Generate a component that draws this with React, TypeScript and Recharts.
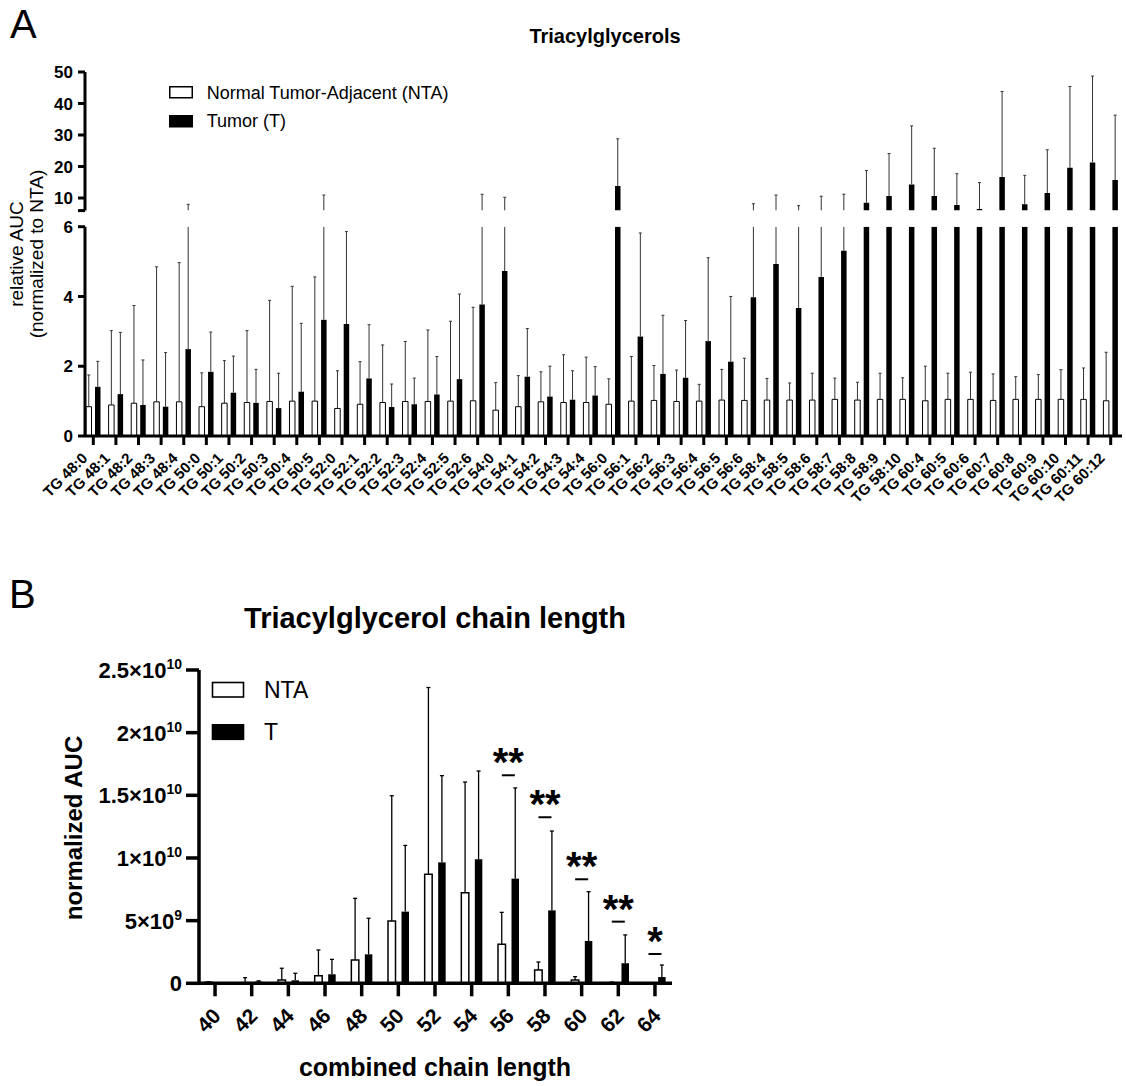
import React from 'react';
import { BarChart, ComposedChart, Bar, Line, XAxis, YAxis, Legend } from 'recharts';

const FONT = '"Liberation Sans", Arial, Helvetica, sans-serif';

// ---------------- Panel A : Triacylglycerols ----------------
const categoriesA = [
  'TG 48:0', 'TG 48:1', 'TG 48:2', 'TG 48:3', 'TG 48:4',
  'TG 50:0', 'TG 50:1', 'TG 50:2', 'TG 50:3', 'TG 50:4', 'TG 50:5',
  'TG 52:0', 'TG 52:1', 'TG 52:2', 'TG 52:3', 'TG 52:4', 'TG 52:5', 'TG 52:6',
  'TG 54:0', 'TG 54:1', 'TG 54:2', 'TG 54:3', 'TG 54:4',
  'TG 56:0', 'TG 56:1', 'TG 56:2', 'TG 56:3', 'TG 56:4', 'TG 56:5', 'TG 56:6',
  'TG 58:4', 'TG 58:5', 'TG 58:6', 'TG 58:7', 'TG 58:8', 'TG 58:9', 'TG 58:10',
  'TG 60:4', 'TG 60:5', 'TG 60:6', 'TG 60:7', 'TG 60:8', 'TG 60:9', 'TG 60:10', 'TG 60:11', 'TG 60:12',
];
const ntaMeanA = [
  0.84, 0.89, 0.94, 0.98, 0.98,
  0.84, 0.94, 0.96, 0.99, 1.0, 1.0,
  0.79, 0.91, 0.96, 0.99, 0.99, 1.0, 1.01,
  0.74, 0.84, 0.98, 0.96, 0.96,
  0.91, 1.0, 1.02, 0.99, 1.0, 1.03, 1.02,
  1.03, 1.03, 1.03, 1.05, 1.03, 1.05, 1.05,
  1.01, 1.05, 1.05, 1.02, 1.05, 1.05, 1.05, 1.05, 1.01,
];
const ntaSdA = [
  0.91, 2.13, 2.8, 3.87, 3.99,
  0.97, 1.22, 2.06, 2.9, 3.29, 3.56,
  1.08, 1.22, 1.65, 1.72, 2.05, 2.29, 2.68,
  0.79, 0.89, 0.86, 1.37, 1.3,
  0.73, 1.28, 1.0, 0.9, 0.48, 0.88, 1.21,
  0.62, 0.49, 0.77, 0.61, 0.51, 0.75, 0.62,
  0.99, 0.75, 0.78, 0.76, 0.65, 0.71, 0.85, 0.9, 1.39,
];
const tumorMeanA = [
  1.41, 1.2, 0.89, 0.84, 2.49,
  1.84, 1.24, 0.95, 0.8, 1.27, 3.33,
  3.21, 1.65, 0.83, 0.91, 1.19, 1.63, 3.77,
  4.73, 1.7, 1.13, 1.04, 1.16,
  13.8, 2.85, 1.78, 1.67, 2.72, 2.13, 3.98,
  4.93, 3.67, 4.56, 5.31, 8.5, 10.6, 14.3,
  10.6, 7.8, 6.5, 16.7, 8.0, 11.6, 19.6, 21.3, 15.7,
];
const tumorSdA = [
  0.73, 1.77, 1.29, 1.55, 5.5,
  1.14, 1.05, 0.96, 1.0, 1.96, 7.6,
  2.65, 1.54, 0.66, 0.75, 1.09, 2.44, 7.4,
  5.5, 1.38, 0.87, 0.83, 0.83,
  15.0, 2.97, 1.68, 1.64, 2.39, 1.87, 4.2,
  6.0, 3.9, 6.0, 5.9, 10.2, 13.5, 18.6,
  15.2, 9.9, 8.4, 27.1, 9.2, 13.7, 25.8, 27.4, 20.6,
];
const seriesNamesA = ['Normal Tumor-Adjacent (NTA)', 'Tumor (T)'];
const lowerDomainA = [0, 6];
const upperDomainA = [6, 50];
const lowerTicksA = [0, 2, 4, 6];
const upperTicksA = [6, 10, 20, 30, 40, 50];

// ---------------- Panel B : chain length ----------------
const categoriesB = ['40', '42', '44', '46', '48', '50', '52', '54', '56', '58', '60', '62', '64'];
const ntaMeanB = [0.08e9, 0.05e9, 0.27e9, 0.61e9, 1.86e9, 4.97e9, 8.7e9, 7.23e9, 3.11e9, 1.06e9, 0.27e9, 0.05e9, 0.02e9];
const ntaSdB = [0.04e9, 0.4e9, 0.93e9, 2.05e9, 4.92e9, 10.0e9, 14.9e9, 8.83e9, 2.55e9, 0.64e9, 0.26e9, 0.05e9, 0.01e9];
const tumorMeanB = [0.02e9, 0.15e9, 0.24e9, 0.72e9, 2.31e9, 5.72e9, 9.65e9, 9.89e9, 8.35e9, 5.82e9, 3.38e9, 1.6e9, 0.5e9];
const tumorSdB = [0.01e9, 0.05e9, 0.56e9, 1.19e9, 2.88e9, 5.28e9, 6.92e9, 7.05e9, 7.24e9, 6.33e9, 3.93e9, 2.26e9, 0.96e9];
const sigLabelsB = ['', '', '', '', '', '', '', '', '**', '**', '**', '**', '*'];
const sigLevelB = [null, null, null, null, null, null, null, null, 16.6e9, 13.25e9, 8.3e9, 4.92e9, 2.34e9];
const seriesNamesB = ['NTA', 'T'];
const ticksB = [0, 5e9, 1e10, 1.5e10, 2e10, 2.5e10];
const tickBaseB = ['0', '5×10', '1×10', '1.5×10', '2×10', '2.5×10'];
const tickExpB = ['', '9', '10', '10', '10', '10'];

const dataA = categoriesA.map((cat, i) => ({
  cat,
  nta: ntaMeanA[i],
  ntaSd: ntaSdA[i],
  t: tumorMeanA[i],
  tSd: tumorSdA[i],
}));

const dataB = categoriesB.map((cat, i) => ({
  cat,
  nta: ntaMeanB[i],
  ntaSd: ntaSdB[i],
  t: tumorMeanB[i],
  tSd: tumorSdB[i],
  sigY: sigLevelB[i],
  sigLabel: sigLabelsB[i],
}));

// error whisker drawn on top of the stacked mean bar (mean .. mean+sd)
function makeErrShape(meanKey: string, sdKey: string, lo: number, hi: number, capW: number, color: string, sw: number) {
  return (props: any) => {
    const { x, y, width, height, payload } = props;
    if (!payload || !isFinite(x) || !isFinite(y) || !isFinite(height)) return <g />;
    const mean = payload[meanKey];
    const top = mean + payload[sdKey];
    if (top <= lo || mean >= hi) return <g />;
    const cx = x + width / 2;
    const y1 = Math.min(y, y + height);
    const y2 = Math.max(y, y + height);
    return (
      <g>
        <line x1={cx} x2={cx} y1={y1} y2={y2} stroke={color} strokeWidth={sw} />
        {top <= hi && (
          <line x1={cx - capW / 2} x2={cx + capW / 2} y1={y1} y2={y1} stroke={color} strokeWidth={sw} />
        )}
      </g>
    );
  };
}

const TickA = (props: any) => {
  const { x, y, payload } = props;
  const ax = x - 5;
  const ay = y + 14;
  return (
    <text x={ax} y={ay} transform={`rotate(-45 ${ax} ${ay})`} textAnchor="end" fontSize={15}
      fontWeight="bold" fontFamily={FONT} fill="#000">{payload.value}</text>
  );
};

const TickBX = (props: any) => {
  const { x, y, payload } = props;
  const ax = x + 7;
  const ay = y + 21;
  return (
    <text x={ax} y={ay} transform={`rotate(-45 ${ax} ${ay})`} textAnchor="end" fontSize={21}
      fontWeight="bold" fontFamily={FONT} fill="#000">{payload.value}</text>
  );
};

const TickBY = (props: any) => {
  const { x, y, payload } = props;
  const i = ticksB.indexOf(payload.value);
  const base = i >= 0 ? tickBaseB[i] : String(payload.value);
  const exp = i >= 0 ? tickExpB[i] : '';
  return (
    <text x={x} y={y + 8} textAnchor="end" fontSize={22} fontWeight="bold" fontFamily={FONT} fill="#000">
      {base}
      {exp ? <tspan dy={-9} fontSize={14}>{exp}</tspan> : null}
    </text>
  );
};

const visibleItems = (payload: any[] | undefined) =>
  (payload || []).filter((it: any) => it && it.type !== 'none' && it.legendType !== 'none');

const LegendA = (props: any) => {
  const items = visibleItems(props.payload);
  return (
    <svg width={320} height={56} style={{ display: 'block', overflow: 'visible' }}>
      {items.map((it: any, i: number) => (
        <g key={i}>
          <rect x={9.75} y={6.75 + i * 29} width={22.5} height={11} fill={it.color} stroke="#000" strokeWidth={1.5} />
          <text x={46.7} y={19 + i * 28.3} fontSize={18} fontFamily={FONT} fill="#000">{it.value}</text>
        </g>
      ))}
    </svg>
  );
};

const LegendB = (props: any) => {
  const items = visibleItems(props.payload);
  return (
    <svg width={160} height={75} style={{ display: 'block', overflow: 'visible' }}>
      {items.map((it: any, i: number) => (
        <g key={i}>
          <rect x={13.5} y={8.5 + i * 42.3} width={31} height={14.5} fill={it.color} stroke="#000" strokeWidth={1.6} />
          <text x={65} y={23.5 + i * 42.6} fontSize={23} fontFamily={FONT} fill="#000">{it.value}</text>
        </g>
      ))}
    </svg>
  );
};

const SigDot = (props: any) => {
  const { cx, cy, payload, index } = props;
  if (!payload || !payload.sigLabel || cy == null || !isFinite(cy)) return <g key={`s${index}`} />;
  return (
    <g key={`s${index}`}>
      <line x1={cx - 6.5} x2={cx + 6.5} y1={cy} y2={cy} stroke="#000" strokeWidth={2} />
      <text x={cx} y={cy + 1} textAnchor="middle" fontSize={40} fontWeight="bold" fontFamily={FONT} fill="#000">
        {payload.sigLabel}
      </text>
    </g>
  );
};

const axisStroke = { stroke: '#000', strokeWidth: 3 };

export default function App() {
  return (
    <div style={{ position: 'absolute', left: 0, top: 0, width: 1126, height: 1086, background: '#fff', fontFamily: FONT }}>
      {/* Panel A, upper (broken) segment */}
      <div style={{ position: 'absolute', left: 0, top: 60 }}>
        <BarChart width={1126} height={160} data={dataA} barSize={5.5} barGap={3.5}
          margin={{ top: 12, right: 4, left: 0, bottom: 9.4 }}>
          <XAxis dataKey="cat" hide padding={{ left: -3, right: 0 }} />
          <YAxis width={85} domain={upperDomainA} ticks={upperTicksA} allowDataOverflow interval={0}
            tickFormatter={(v: number) => (v === upperDomainA[0] ? '' : String(v))}
            tickSize={7} tickMargin={5} axisLine={axisStroke} tickLine={axisStroke}
            tick={{ fill: '#000', fontSize: 17, fontWeight: 'bold', fontFamily: FONT }} />
          <Legend layout="vertical" align="center" verticalAlign="middle"
            wrapperStyle={{ left: 160, top: 20, width: 320, height: 56 }} content={<LegendA />} />
          <Bar dataKey="nta" name={seriesNamesA[0]} stackId="n" fill="#fff" stroke="#000" strokeWidth={1} isAnimationActive={false} />
          <Bar dataKey="ntaSd" stackId="n" legendType="none" fill="none" isAnimationActive={false}
            shape={makeErrShape('nta', 'ntaSd', upperDomainA[0], upperDomainA[1], 3, '#333', 1)} />
          <Bar dataKey="t" name={seriesNamesA[1]} stackId="t" fill="#000" isAnimationActive={false} />
          <Bar dataKey="tSd" stackId="t" legendType="none" fill="none" isAnimationActive={false}
            shape={makeErrShape('t', 'tSd', upperDomainA[0], upperDomainA[1], 3, '#333', 1)} />
        </BarChart>
      </div>

      {/* Panel A, lower segment */}
      <div style={{ position: 'absolute', left: 0, top: 200 }}>
        <BarChart width={1126} height={330} data={dataA} barSize={5.5} barGap={3.5}
          margin={{ top: 26.7, right: 4, left: 0, bottom: 0 }}>
          <XAxis dataKey="cat" interval={0} height={94} padding={{ left: -3, right: 0 }}
            tickSize={9} tickMargin={0} axisLine={axisStroke} tickLine={axisStroke} tick={<TickA />} />
          <YAxis width={85} domain={lowerDomainA} ticks={lowerTicksA} allowDataOverflow interval={0}
            tickSize={7} tickMargin={5} axisLine={axisStroke} tickLine={axisStroke}
            tick={{ fill: '#000', fontSize: 17, fontWeight: 'bold', fontFamily: FONT }} />
          <Bar dataKey="nta" name={seriesNamesA[0]} stackId="n" fill="#fff" stroke="#000" strokeWidth={1} isAnimationActive={false} />
          <Bar dataKey="ntaSd" stackId="n" legendType="none" fill="none" isAnimationActive={false}
            shape={makeErrShape('nta', 'ntaSd', lowerDomainA[0], lowerDomainA[1], 3, '#333', 1)} />
          <Bar dataKey="t" name={seriesNamesA[1]} stackId="t" fill="#000" isAnimationActive={false} />
          <Bar dataKey="tSd" stackId="t" legendType="none" fill="none" isAnimationActive={false}
            shape={makeErrShape('t', 'tSd', lowerDomainA[0], lowerDomainA[1], 3, '#333', 1)} />
        </BarChart>
      </div>

      {/* Panel B */}
      <div style={{ position: 'absolute', left: 0, top: 640 }}>
        <ComposedChart width={700} height={446} data={dataB} barSize={7.5} barGap={6}
          margin={{ top: 30, right: 28, left: 0, bottom: 0 }}>
          <XAxis dataKey="cat" interval={0} height={102.7} padding={{ left: -2.3, right: -1.3 }}
            tickSize={13} tickMargin={0} axisLine={{ stroke: '#000', strokeWidth: 3.5 }}
            tickLine={{ stroke: '#000', strokeWidth: 3.5 }} tick={<TickBX />} />
          <YAxis width={199} domain={[0, 2.5e10]} ticks={ticksB} interval={0}
            tickSize={13} tickMargin={4} axisLine={{ stroke: '#000', strokeWidth: 3.5 }}
            tickLine={{ stroke: '#000', strokeWidth: 3.5 }} tick={<TickBY />} />
          <Legend layout="vertical" align="center" verticalAlign="middle"
            wrapperStyle={{ left: 199, top: 34, width: 160, height: 75 }} content={<LegendB />} />
          <Bar dataKey="nta" name={seriesNamesB[0]} stackId="n" fill="#fff" stroke="#000" strokeWidth={1.5} isAnimationActive={false} />
          <Bar dataKey="ntaSd" stackId="n" legendType="none" fill="none" isAnimationActive={false}
            shape={makeErrShape('nta', 'ntaSd', 0, 2.5e10, 4, '#000', 1.3)} />
          <Bar dataKey="t" name={seriesNamesB[1]} stackId="t" fill="#000" isAnimationActive={false} />
          <Bar dataKey="tSd" stackId="t" legendType="none" fill="none" isAnimationActive={false}
            shape={makeErrShape('t', 'tSd', 0, 2.5e10, 4, '#000', 1.3)} />
          <Line dataKey="sigY" stroke="none" legendType="none" dot={<SigDot />} activeDot={false}
            isAnimationActive={false} connectNulls={false} />
        </ComposedChart>
      </div>

      {/* Static text */}
      <svg width={1126} height={1086} style={{ position: 'absolute', left: 0, top: 0, pointerEvents: 'none' }}>
        <text x={10} y={38} fontSize={40} fontFamily={FONT} fill="#000">A</text>
        <text x={605} y={42.5} fontSize={20} fontWeight="bold" textAnchor="middle" fontFamily={FONT} fill="#000">Triacylglycerols</text>
        <text x={22.5} y={254} fontSize={19} textAnchor="middle" fontFamily={FONT} fill="#000"
          transform="rotate(-90 22.5 254)">relative AUC</text>
        <text x={42.5} y={254} fontSize={19} textAnchor="middle" fontFamily={FONT} fill="#000"
          transform="rotate(-90 42.5 254)">(normalized to NTA)</text>

        <text x={9} y={608} fontSize={40} fontFamily={FONT} fill="#000">B</text>
        <text x={435} y={628} fontSize={29} fontWeight="bold" textAnchor="middle" fontFamily={FONT} fill="#000">Triacylglycerol chain length</text>
        <text x={82} y={828} fontSize={24} fontWeight="bold" textAnchor="middle" fontFamily={FONT} fill="#000"
          transform="rotate(-90 82 828)">normalized AUC</text>
        <text x={435} y={1076} fontSize={25} fontWeight="bold" textAnchor="middle" fontFamily={FONT} fill="#000">combined chain length</text>
      </svg>
    </div>
  );
}
